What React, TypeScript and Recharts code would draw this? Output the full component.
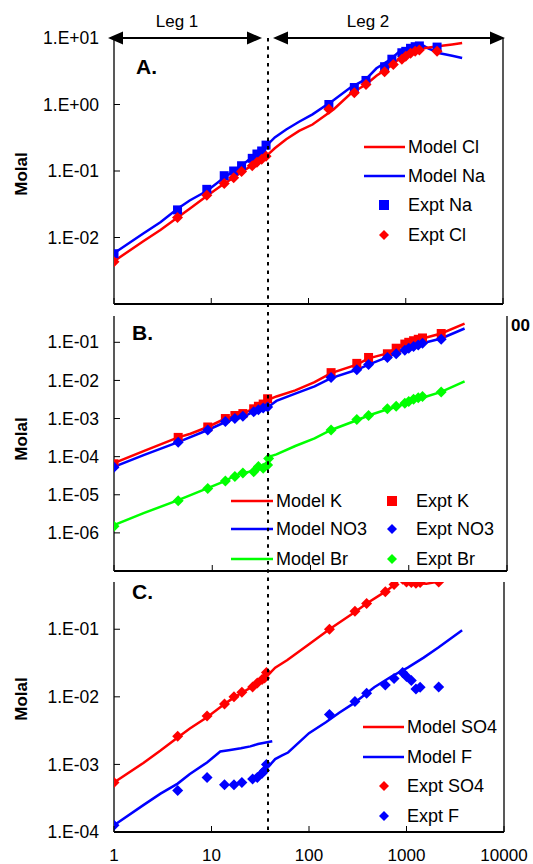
import { ComposedChart, Line, Scatter, XAxis, YAxis, ReferenceLine } from 'recharts'

type Pt = { x: number; y: number }
const pts = (rows: number[][]): Pt[] => rows.map(([x, y]) => ({ x, y }))

// shared x axis (log scale)
const X_TICKS = [1, 10, 100, 1000, 10000]
const A_TICKS = [0.01, 0.1, 1, 10]
const B_TICKS = [1e-6, 1e-5, 1e-4, 1e-3, 1e-2, 1e-1]
const C_TICKS = [1e-4, 1e-3, 1e-2, 1e-1]

// Panel A
const modelNa = pts([[1, 0.0058], [2, 0.0115], [3, 0.017], [4.5, 0.027], [6, 0.036], [9, 0.05], [13.6, 0.08], [17, 0.1], [20.5, 0.12], [26, 0.16], [30, 0.19], [38, 0.25], [45, 0.32], [59, 0.42], [80, 0.55], [110, 0.71], [182, 1.17], [270, 1.8], [390, 2.4], [500, 3.5], [700, 4.8], [875, 6.4], [1100, 7.2], [1400, 8.2], [1700, 7.0], [2240, 5.9], [3000, 5.4], [3800, 5.0]])
const modelCl = pts([[1, 0.0044], [2, 0.0088], [3, 0.013], [4.5, 0.02], [6, 0.027], [9, 0.042], [13.6, 0.065], [17, 0.079], [20.5, 0.097], [26, 0.12], [30, 0.135], [38, 0.175], [45, 0.22], [59, 0.3], [80, 0.4], [110, 0.5], [182, 0.85], [270, 1.45], [390, 2.0], [500, 2.7], [700, 3.8], [875, 5.0], [1100, 6.0], [1320, 6.8], [1600, 7.1], [2240, 7.6], [3000, 8.0], [3800, 8.4]])
const exptNa = pts([[1, 0.0057], [4.5, 0.026], [9, 0.053], [13.6, 0.085], [17, 0.1], [20.5, 0.12], [26.4, 0.155], [29.5, 0.18], [33, 0.2], [36.6, 0.245], [162, 1.0], [296, 1.8], [390, 2.3], [606, 3.7], [720, 4.8], [912, 6.0], [1000, 6.3], [1120, 7.0], [1250, 7.4], [1380, 7.6], [2100, 7.3]])
const exptCl = pts([[1, 0.0043], [4.5, 0.02], [9, 0.043], [13.6, 0.065], [17, 0.079], [20.5, 0.098], [26.4, 0.12], [29.5, 0.135], [33, 0.15], [36.6, 0.166], [162, 0.85], [296, 1.5], [390, 2.0], [606, 3.1], [745, 4.0], [912, 4.8], [1000, 5.3], [1120, 5.9], [1250, 6.3], [1380, 6.6], [2100, 6.3]])

// Panel B
const modelK = pts([[1, 6.8e-5], [2, 1.4e-4], [4.5, 3.2e-4], [6, 4e-4], [9, 6e-4], [13.6, 1.0e-3], [17, 1.15e-3], [20.5, 1.3e-3], [26, 1.85e-3], [30, 2.0e-3], [38, 3.2e-3], [45, 3.8e-3], [70, 5.5e-3], [110, 9e-3], [162, 0.0155], [296, 0.026], [390, 0.038], [606, 0.051], [745, 0.069], [912, 0.094], [1120, 0.11], [1380, 0.126], [2140, 0.17], [3700, 0.31]])
const modelNO3 = pts([[1, 5.4e-5], [2, 1.1e-4], [4.5, 2.4e-4], [9, 5e-4], [13.6, 8.1e-4], [17, 1e-3], [20.5, 1.1e-3], [26, 1.5e-3], [30, 1.65e-3], [38, 2.1e-3], [45, 2.9e-3], [70, 4.5e-3], [110, 7e-3], [162, 0.0115], [296, 0.019], [390, 0.026], [606, 0.041], [745, 0.051], [912, 0.066], [1120, 0.083], [1380, 0.094], [2140, 0.126], [3700, 0.23]])
const modelBr = pts([[1, 1.6e-6], [2, 3.3e-6], [4.5, 7.2e-6], [9, 1.5e-5], [13.6, 2.3e-5], [17, 3.2e-5], [20.5, 3.7e-5], [26, 4.2e-5], [30, 5.5e-5], [36, 6e-5], [38, 1e-4], [45, 1.15e-4], [70, 1.9e-4], [110, 3e-4], [162, 5e-4], [296, 9e-4], [390, 1.2e-3], [606, 1.75e-3], [745, 2e-3], [912, 2.5e-3], [1120, 3.1e-3], [1380, 3.5e-3], [2140, 5e-3], [3700, 9.5e-3]])
const exptK = pts([[1, 6.5e-5], [4.5, 3.2e-4], [9, 6e-4], [13.6, 1e-3], [17, 1.2e-3], [20.5, 1.35e-3], [26.4, 1.8e-3], [29.5, 2.1e-3], [33, 2.4e-3], [36.6, 3.3e-3], [162, 0.016], [296, 0.028], [390, 0.04], [606, 0.05], [745, 0.07], [912, 0.09], [1000, 0.1], [1120, 0.11], [1250, 0.12], [1380, 0.13], [2140, 0.17]])
const exptNO3 = pts([[1, 5.3e-5], [4.5, 2.4e-4], [9, 5e-4], [13.6, 8.3e-4], [17, 1e-3], [20.5, 1.15e-3], [26.4, 1.5e-3], [29.5, 1.7e-3], [33, 1.9e-3], [36.6, 2.0e-3], [162, 0.012], [296, 0.019], [390, 0.026], [606, 0.04], [745, 0.05], [912, 0.062], [1000, 0.07], [1120, 0.078], [1250, 0.085], [1380, 0.095], [2140, 0.12]])
const exptBr = pts([[1, 1.5e-6], [4.5, 7e-6], [9, 1.45e-5], [13.6, 2.3e-5], [17, 3e-5], [20.5, 3.7e-5], [26.4, 4e-5], [29.5, 5.5e-5], [33, 5e-5], [36.6, 6e-5], [37.5, 9e-5], [162, 5e-4], [296, 9.5e-4], [390, 1.2e-3], [606, 1.8e-3], [745, 2.1e-3], [912, 2.5e-3], [1000, 2.8e-3], [1120, 3.2e-3], [1250, 3.5e-3], [1380, 3.8e-3], [2140, 5e-3]])

// Panel C
const modelSO4 = pts([[1, 5.4e-4], [2, 1.05e-3], [3, 1.6e-3], [4.5, 2.5e-3], [6, 3.4e-3], [9, 5e-3], [13.6, 7.8e-3], [17, 9.8e-3], [20.5, 0.0115], [26, 0.014], [30, 0.016], [38, 0.021], [45, 0.027], [60, 0.035], [100, 0.06], [162, 0.1], [296, 0.18], [390, 0.24], [606, 0.36], [745, 0.45], [900, 0.6], [1100, 0.55], [1300, 0.48], [1600, 0.47], [2000, 0.5], [2600, 0.6]])
const modelFLeg1 = pts([[1, 1.26e-4], [2, 2.5e-4], [3, 3.7e-4], [4.5, 5.2e-4], [6, 7.2e-4], [9, 1.07e-3], [12.3, 1.55e-3], [15, 1.62e-3], [20, 1.73e-3], [25, 1.85e-3], [30, 2.0e-3], [42, 2.2e-3]])
const modelFLeg2 = pts([[38, 9.1e-4], [45, 1.2e-3], [53, 1.36e-3], [61, 1.5e-3], [100, 2.9e-3], [149, 4.2e-3], [204, 5.8e-3], [287, 8e-3], [467, 0.0139], [700, 0.02], [1030, 0.027], [1500, 0.038], [2140, 0.054], [3720, 0.097]])
const exptSO4 = pts([[1, 5.4e-4], [4.5, 2.6e-3], [9, 5.2e-3], [13.6, 7.8e-3], [17, 0.01], [20.5, 0.0117], [26.4, 0.014], [29.5, 0.016], [33, 0.018], [35, 0.019], [36.6, 0.023], [162, 0.1], [296, 0.185], [390, 0.24], [606, 0.36], [745, 0.46], [912, 0.55], [1000, 0.5], [1120, 0.49], [1250, 0.48], [1380, 0.49], [2140, 0.5]])
const exptF = pts([[1, 1.26e-4], [4.5, 4.1e-4], [9, 6.4e-4], [13.6, 5e-4], [17, 5e-4], [20.5, 5.4e-4], [26.4, 6.1e-4], [29.5, 6.4e-4], [33, 7.4e-4], [35, 8.1e-4], [36.6, 1.0e-3], [162, 5.5e-3], [296, 8.5e-3], [390, 0.0113], [606, 0.015], [745, 0.0186], [912, 0.023], [1000, 0.02], [1120, 0.0175], [1250, 0.0131], [1380, 0.0138], [2140, 0.014]])

const RED = '#ff0000'
const BLUE = '#0000ff'
const GREEN = '#00ff00'
const FONT = '"Liberation Sans", Arial, sans-serif'

const fmtE = (v: number) => {
  const e = Math.round(Math.log10(v))
  return `1.E${e < 0 ? '-' : '+'}${String(Math.abs(e)).padStart(2, '0')}`
}

const square = (color: string) => (p: any) => (
  <rect x={p.cx - 4.5} y={p.cy - 4.5} width={9} height={9} fill={color} />
)
const diamond = (color: string) => (p: any) => (
  <polygon points={`${p.cx},${p.cy - 5.5} ${p.cx + 5.5},${p.cy} ${p.cx},${p.cy + 5.5} ${p.cx - 5.5},${p.cy}`} fill={color} />
)

const yTick = (p: any) => (
  <g>
    <line x1={p.x} y1={p.y} x2={p.x + 6} y2={p.y} stroke="#000" strokeWidth={1} />
    <text x={p.x - 15} y={p.y} dy="0.35em" textAnchor="end" fontSize={17.5} fontFamily={FONT} fill="#000">{fmtE(p.payload.value)}</text>
  </g>
)
const xTick = (showLabel: boolean) => (p: any) => (
  <g>
    <line x1={p.x} y1={p.y} x2={p.x} y2={p.y - 6} stroke="#000" strokeWidth={1} />
    {showLabel && (
      <text x={p.x} y={p.y + 29} textAnchor="middle" fontSize={17} fontFamily={FONT} fill="#000">{p.payload.value}</text>
    )}
  </g>
)

function Axes({ yDomain, yTicks, showX, xHeight }: { yDomain: number[]; yTicks: number[]; showX: boolean; xHeight: number }) {
  return [
    <XAxis key="x" dataKey="x" type="number" scale="log" domain={[1, 10000]} ticks={X_TICKS} interval={0} allowDataOverflow
      height={xHeight} tickSize={0} tickMargin={0} tickLine={false} tick={xTick(showX)} axisLine={{ stroke: '#000', strokeWidth: 2 }} />,
    <YAxis key="y" dataKey="y" type="number" scale="log" domain={yDomain} ticks={yTicks} interval={0} allowDataOverflow
      width={114} tickSize={0} tickMargin={0} tickLine={false} tick={yTick} axisLine={{ stroke: '#222', strokeWidth: 1.5 }} />,
    <ReferenceLine key="r" x={10000} stroke="#222" strokeWidth={1.5} />,
  ]
}

const lineProps = { type: 'linear' as const, dataKey: 'y', dot: false, strokeWidth: 2.5, isAnimationActive: false, legendType: 'none' as const }

// legend rows: marker centre (or line start) and text start
type LegendItem = { kind: 'line' | 'square' | 'diamond'; color: string; label: string; mx: number; tx: number; cy: number }

function LegendBox({ items }: { items: LegendItem[] }) {
  return (
    <>
      <svg width={533} height={864} style={{ position: 'absolute', left: 0, top: 0, pointerEvents: 'none' }}>
        {items.map((it) => (
          <g key={it.label}>
            {it.kind === 'line' && <line x1={it.mx} y1={it.cy} x2={it.tx - 3} y2={it.cy} stroke={it.color} strokeWidth={2.5} />}
            {it.kind === 'square' && <rect x={it.mx - 5} y={it.cy - 5} width={10} height={10} fill={it.color} />}
            {it.kind === 'diamond' && <polygon points={`${it.mx},${it.cy - 5} ${it.mx + 5},${it.cy} ${it.mx},${it.cy + 5} ${it.mx - 5},${it.cy}`} fill={it.color} />}
            <text x={it.tx} y={it.cy} dy="0.35em" fontSize={18} fontFamily={FONT} fill="#000">{it.label}</text>
          </g>
        ))}
      </svg>
    </>
  )
}

const legendA: LegendItem[] = [
  { kind: 'line', color: RED, label: 'Model Cl', mx: 364, tx: 408, cy: 147 },
  { kind: 'line', color: BLUE, label: 'Model Na', mx: 364, tx: 408, cy: 176 },
  { kind: 'square', color: BLUE, label: 'Expt Na', mx: 384, tx: 408, cy: 205 },
  { kind: 'diamond', color: RED, label: 'Expt Cl', mx: 384, tx: 408, cy: 235 },
]
const legendB: LegendItem[] = [
  { kind: 'line', color: RED, label: 'Model K', mx: 231, tx: 276, cy: 501 },
  { kind: 'line', color: BLUE, label: 'Model NO3', mx: 231, tx: 276, cy: 529 },
  { kind: 'line', color: GREEN, label: 'Model Br', mx: 231, tx: 276, cy: 559 },
  { kind: 'square', color: RED, label: 'Expt K', mx: 392, tx: 416, cy: 501 },
  { kind: 'diamond', color: BLUE, label: 'Expt NO3', mx: 392, tx: 416, cy: 529 },
  { kind: 'diamond', color: GREEN, label: 'Expt Br', mx: 392, tx: 416, cy: 559 },
]
const legendC: LegendItem[] = [
  { kind: 'line', color: RED, label: 'Model SO4', mx: 363, tx: 407, cy: 727 },
  { kind: 'line', color: BLUE, label: 'Model F', mx: 363, tx: 407, cy: 757 },
  { kind: 'diamond', color: RED, label: 'Expt SO4', mx: 384, tx: 407, cy: 786 },
  { kind: 'diamond', color: BLUE, label: 'Expt F', mx: 384, tx: 407, cy: 816 },
]

export default function App() {
  return (
    <div style={{ position: 'absolute', left: 0, top: 0, width: 533, height: 864, overflow: 'hidden', background: '#fff', fontFamily: FONT, color: '#000' }}>
      {/* Panel A */}
      <div style={{ position: 'absolute', left: 0, top: 0 }}>
        <ComposedChart width={533} height={340} margin={{ top: 38, right: 30, bottom: 6, left: 0 }}>
          {Axes({ yDomain: [0.001, 10], yTicks: A_TICKS, showX: false, xHeight: 30 })}
          <Line {...lineProps} data={modelNa} stroke={BLUE} />
          <Line {...lineProps} data={modelCl} stroke={RED} />
          <Scatter data={exptNa} dataKey="y" fill={BLUE} shape={square(BLUE)} isAnimationActive={false} />
          <Scatter data={exptCl} dataKey="y" fill={RED} shape={diamond(RED)} isAnimationActive={false} />
        </ComposedChart>
      </div>
      <div style={{ position: 'absolute', left: 511, top: 316, fontSize: 17, fontWeight: 'bold', lineHeight: '20px' }}>00</div>

      {/* Panel B */}
      <div style={{ position: 'absolute', left: 0, top: 310, width: 508, height: 264, background: '#fff' }}>
        <ComposedChart width={533} height={264} margin={{ top: 6, right: 26, bottom: 0, left: 0 }}>
          {Axes({ yDomain: [1e-7, 0.49], yTicks: B_TICKS, showX: false, xHeight: 3 })}
          <Line {...lineProps} data={modelBr} stroke={GREEN} />
          <Line {...lineProps} data={modelNO3} stroke={BLUE} />
          <Line {...lineProps} data={modelK} stroke={RED} />
          <Scatter data={exptK} dataKey="y" fill={RED} shape={square(RED)} isAnimationActive={false} />
          <Scatter data={exptNO3} dataKey="y" fill={BLUE} shape={diamond(BLUE)} isAnimationActive={false} />
          <Scatter data={exptBr} dataKey="y" fill={GREEN} shape={diamond(GREEN)} isAnimationActive={false} />
        </ComposedChart>
      </div>

      {/* Panel C */}
      <div style={{ position: 'absolute', left: 0, top: 574, width: 533, height: 290, background: '#fff' }}>
        <ComposedChart width={533} height={290} margin={{ top: 8, right: 29, bottom: 0, left: 0 }}>
          {Axes({ yDomain: [1e-4, 0.5], yTicks: C_TICKS, showX: true, xHeight: 32 })}
          <Line {...lineProps} data={modelSO4} stroke={RED} />
          <Line {...lineProps} data={modelFLeg1} stroke={BLUE} />
          <Line {...lineProps} data={modelFLeg2} stroke={BLUE} />
          <Scatter data={exptSO4} dataKey="y" fill={RED} shape={diamond(RED)} isAnimationActive={false} />
          <Scatter data={exptF} dataKey="y" fill={BLUE} shape={diamond(BLUE)} isAnimationActive={false} />
        </ComposedChart>
      </div>

      <LegendBox items={legendA} />
      <LegendBox items={legendB} />
      <LegendBox items={legendC} />

      {/* annotations */}
      <svg width={533} height={864} style={{ position: 'absolute', left: 0, top: 0, pointerEvents: 'none' }}>
        <line x1={268} y1={38} x2={268} y2={832} stroke="#000" strokeWidth={2} strokeDasharray="3.5 4.8" />
        <line x1={114} y1={38} x2={255} y2={38} stroke="#000" strokeWidth={2} />
        <polygon points="108,38 123,31.5 123,44.5" fill="#000" />
        <polygon points="262,38 247,31.5 247,44.5" fill="#000" />
        <line x1={280} y1={38} x2={498} y2={38} stroke="#000" strokeWidth={2} />
        <polygon points="273,38 288,31.5 288,44.5" fill="#000" />
        <polygon points="505,38 490,31.5 490,44.5" fill="#000" />
        <text x={177} y={27} textAnchor="middle" fontSize={17} fontFamily={FONT}>Leg 1</text>
        <text x={368} y={27} textAnchor="middle" fontSize={17} fontFamily={FONT}>Leg 2</text>
        <text x={136} y={74} fontSize={21} fontWeight="bold" fontFamily={FONT}>A.</text>
        <text x={132} y={340} fontSize={21} fontWeight="bold" fontFamily={FONT}>B.</text>
        <text x={132} y={599} fontSize={21} fontWeight="bold" fontFamily={FONT}>C.</text>
        {[174, 439, 699].map((cy) => (
          <text key={cy} x={21} y={cy} transform={`rotate(-90 21 ${cy})`} textAnchor="middle" dy="0.35em" fontSize={17} fontWeight="bold" fontFamily={FONT}>Molal</text>
        ))}
      </svg>
    </div>
  )
}
